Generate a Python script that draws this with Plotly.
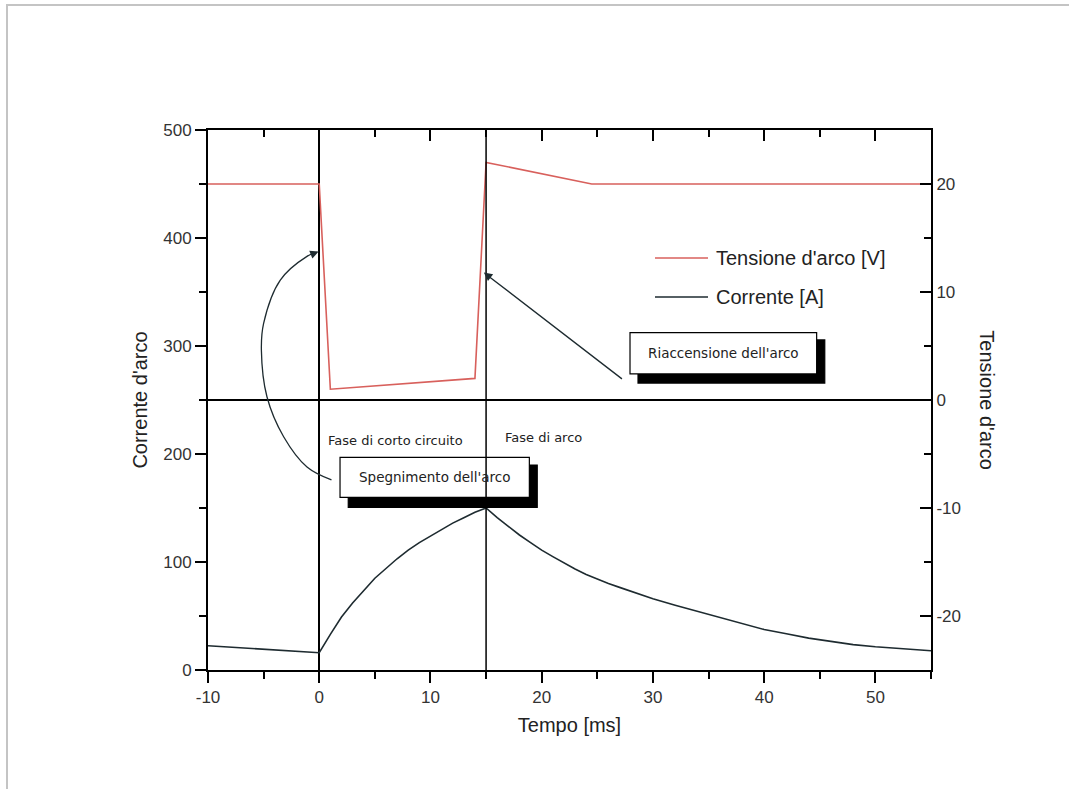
import plotly.graph_objects as go

# ---- data ----
t_volt = [-10, 0, 1.0, 14.0, 15.0, 24.5, 55]
v_volt = [20, 20, 1.0, 2.0, 22.0, 20, 20]

t_curr = [-10, 0, 1, 2, 3, 4, 5, 6, 7, 8, 9, 10, 11, 12, 13, 14, 15,
          16, 17, 18, 19, 20, 21, 22, 23, 24, 25, 26, 27, 28, 29, 30,
          32, 34, 36, 38, 40, 42, 44, 46, 48, 50, 52, 55]
i_curr = [22.5, 16, 33, 49, 62, 74, 85, 94, 103, 111, 118, 124, 130, 136, 141, 146, 150,
          141, 133, 125, 118, 111, 105, 99, 93.5, 88.5, 84, 80, 76.5, 73, 69.5, 66,
          60, 54.5, 48.5, 43.5, 37.5, 33.5, 29.5, 26.5, 23.5, 21.5, 19.8, 17.8]

# annotation arc (Spegnimento arrow) in data coordinates
arc_x = [1.1, -1.1, -3.2, -4.7, -5.2, -5.0, -3.5, -1.1, -0.3]
arc_y = [176, 188, 216, 253, 296, 321, 361, 383, 386.5]

x_phase = 15
x_range = [-10, 55]
y_left_range = [0, 500]
y_right_range = [-25, 25]
x_ticks = [-10, 0, 10, 20, 30, 40, 50]
y_left_ticks = [0, 100, 200, 300, 400, 500]
y_right_ticks = [-20, -10, 0, 10, 20]

series_names = ["Tensione d'arco [V]", "Corrente [A]"]
x_title = "Tempo [ms]"
y_left_title = "Corrente d'arco"
y_right_title = "Tensione d'arco"

RED = "#d8605c"
DARK = "#1e2b30"
FONT = "Liberation Sans, Arial, sans-serif"
SMALLFONT = "DejaVu Sans, sans-serif"

def lab(v):
    return str(v).replace("\u2212", "-")

fig = go.Figure()

fig.add_trace(go.Scatter(x=t_volt, y=v_volt, mode="lines", name=series_names[0],
                         line=dict(color=RED, width=1.6), yaxis="y2", showlegend=False))
fig.add_trace(go.Scatter(x=t_curr, y=i_curr, mode="lines", name=series_names[1],
                         line=dict(color=DARK, width=1.6), showlegend=False))
fig.add_trace(go.Scatter(x=arc_x, y=arc_y, mode="lines", showlegend=False,
                         hoverinfo="skip", line=dict(color=DARK, width=1.3, shape="spline")))

# hidden top axis for inward mirrored ticks
fig.add_trace(go.Scatter(x=x_range, y=[None, None], xaxis="x2", showlegend=False,
                         hoverinfo="skip"))

def bx(x0, y0, x1, y1, fill, line):
    fig.add_shape(type="rect", xref="x", yref="y", x0=x0, y0=y0, x1=x1, y1=y1,
                  fillcolor=fill, line=dict(color=line, width=1.2), layer="above")

# Riaccensione box (shadow then box)
bx(28.66, 265.7, 45.45, 305.6, "black", "black")
bx(27.94, 274.1, 44.72, 312.3, "white", "black")
# Spegnimento box
bx(2.61, 150.6, 19.6, 189.8, "black", "black")
bx(1.87, 159.9, 18.89, 196.9, "white", "black")

# vertical phase line at 15 ms
fig.add_shape(type="line", xref="x", yref="paper", x0=x_phase, x1=x_phase, y0=0, y1=1,
              line=dict(color="black", width=1.5), layer="above")

# outer gray frame
fig.add_shape(type="path", xref="paper", yref="paper",
              path="M -0.278,-0.25 L -0.278,1.2315 L 1.2,1.2315",
              line=dict(color="#c4c4c4", width=2))

# custom legend (line samples + labels)
leg_y = [(670 - 258) / 540, (670 - 297) / 540]
leg_colors = [RED, DARK]
ann = []
for name, yy, col in zip(series_names, leg_y, leg_colors):
    fig.add_shape(type="line", xref="paper", yref="paper",
                  x0=(655 - 208) / 723, x1=(708 - 208) / 723, y0=yy, y1=yy,
                  line=dict(color=col, width=1.6))
    ann.append(dict(x=(714 - 208) / 723, y=yy, xref="paper", yref="paper", text=name,
                    xanchor="left", yanchor="middle", showarrow=False,
                    font=dict(family=FONT, size=20, color="#222")))

ann.append(dict(x=36.3, y=293.5, xref="x", yref="y", text="Riaccensione dell'arco",
                showarrow=False, font=dict(family=SMALLFONT, size=13.5, color="#222")))
ann.append(dict(x=10.4, y=178.5, xref="x", yref="y", text="Spegnimento dell'arco",
                showarrow=False, font=dict(family=SMALLFONT, size=13.5, color="#222")))
ann.append(dict(x=0.6, y=212.3, xref="x", yref="y", text="Fase di corto circuito",
                xanchor="left", showarrow=False, font=dict(family=SMALLFONT, size=13, color="#222")))
ann.append(dict(x=16.5, y=215.7, xref="x", yref="y", text="Fase di arco",
                xanchor="left", showarrow=False, font=dict(family=SMALLFONT, size=13, color="#222")))
# arrow Riaccensione
ann.append(dict(x=14.8, y=368, xref="x", yref="y", ax=27.35, ay=268.5, axref="x", ayref="y",
                text="", showarrow=True, arrowhead=2, arrowsize=1.3, arrowwidth=1.3,
                arrowcolor=DARK))
# arrowhead for Spegnimento arc
ann.append(dict(x=-0.05, y=387.5, xref="x", yref="y", ax=-0.9, ay=384, axref="x", ayref="y",
                text="", showarrow=True, arrowhead=2, arrowsize=1.3, arrowwidth=1.3,
                arrowcolor=DARK))
# right axis title
ann.append(dict(x=1.077, y=0.5, xref="paper", yref="paper", text=y_right_title,
                textangle=90, showarrow=False, xanchor="center",
                font=dict(family=FONT, size=20, color="#222")))

axis_common = dict(showgrid=False, showline=True, linecolor="black", linewidth=2,
                   tickcolor="black", tickwidth=2, ticklen=11,
                   tickfont=dict(family=FONT, size=17, color="#333"))

fig.update_layout(
    width=1069, height=789,
    margin=dict(l=208, r=138, t=130, b=119),
    paper_bgcolor="white", plot_bgcolor="white",
    showlegend=False,
    xaxis=dict(range=x_range, tickmode="array", tickvals=x_ticks,
               ticktext=[lab(v) for v in x_ticks], ticks="outside",
               zeroline=True, zerolinecolor="black", zerolinewidth=1.5,
               minor=dict(dtick=5, tick0=0, ticks="outside", ticklen=7, tickwidth=2, tickcolor="black"),
               title=dict(text=x_title, font=dict(family=FONT, size=20, color="#222"), standoff=12),
               **axis_common),
    xaxis2=dict(range=x_range, overlaying="x", side="top", anchor="y",
                showticklabels=False, dtick=10, tick0=0, ticks="inside",
                minor=dict(dtick=5, ticks="inside", ticklen=7, tickwidth=2, tickcolor="black"),
                zeroline=False, **axis_common),
    yaxis=dict(range=y_left_range, tickmode="array", tickvals=y_left_ticks,
               ticktext=[lab(v) for v in y_left_ticks], ticks="outside", zeroline=False,
               minor=dict(dtick=50, tick0=0, ticks="outside", ticklen=7, tickwidth=2, tickcolor="black"),
               title=dict(text=y_left_title, font=dict(family=FONT, size=20, color="#222"), standoff=10),
               **axis_common),
    yaxis2=dict(range=y_right_range, tickmode="array", tickvals=y_right_ticks,
                ticktext=[lab(v) for v in y_right_ticks], overlaying="y", side="right", anchor="x",
                ticks="inside", zeroline=True, zerolinecolor="black", zerolinewidth=1.5,
                minor=dict(dtick=5, tick0=0, ticks="inside", ticklen=7, tickwidth=2, tickcolor="black"),
                **axis_common),
    annotations=ann,
)

fig.write_html("out.html")
